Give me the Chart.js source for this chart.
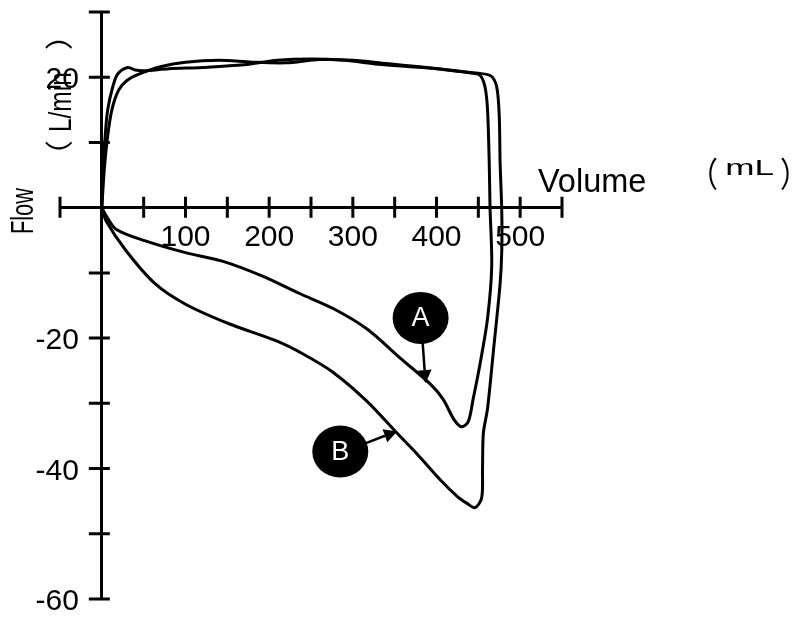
<!DOCTYPE html>
<html>
<head>
<meta charset="utf-8">
<script src="https://cdn.jsdelivr.net/npm/chart.js@4.4.1/dist/chart.umd.min.js"></script>
<style>
body{margin:0;background:#fff;}
#wrap{width:794px;height:617px;position:relative;}
</style>
</head>
<body>
<div id="wrap"><canvas id="loopChart"></canvas></div>
<script>
// loop A (inner), volume in mL, flow in L/min
let loopAVolume = [0,1.5,4,7,13,19,31,40,50,80,120,170,210,250,290,330,370,410,440,452,458,461,463,464,466,461,452,444,438,430,421,408,393,357,317,277,237,192,144,100,52,17,4,0];
let loopAFlow   = [0,6,11,15,18.5,20.5,21.5,21.1,21.0,21.3,21.5,21.9,22.6,22.8,22.6,22.0,21.6,21.2,20.7,20.3,18.5,15,7,0,-9,-17,-24,-29.2,-32.8,-33.6,-32.5,-29.4,-27.1,-23.1,-18.6,-15.5,-13.2,-10.5,-8.2,-6.9,-5.1,-3.3,-1,0];
// loop B (outer)
let loopBVolume = [0,3,7,12,20,30,45,70,100,140,180,220,260,300,340,380,420,450,465,472,475,476,478,478,476,468,461,456,455,454,446,436,425,405,377,353,317,277,240,208,152,100,64,29,5,0];
let loopBFlow   = [0,6,11,15,18,19.5,20.5,21.6,22.3,22.6,22.3,22.2,22.7,22.6,22.1,21.6,21.0,20.6,20.2,18.5,14,7,-0.5,-6.6,-11.7,-22,-30.8,-34.6,-40,-44.5,-46,-45.3,-44.3,-41.8,-37.8,-34.6,-29.7,-25.3,-22.4,-20.4,-17.8,-14.8,-11.7,-6.6,-2,0];

// axis labels shown
let xTickLabels = [100,200,300,400,500];
let yTickLabels = [20,-20,-40,-60];

// callouts
let markNames  = ["A","B"];
let markVolume = [381,285];
let markFlow   = [-16.9,-37.4];
let tipVolume  = [387,353];
let tipFlow    = [-26.9,-34.3];

let toPoints = function(xs,ys){
	let pts = [];
	for(let i=0;i<xs.length;i++){
		pts.push({x:xs[i],y:ys[i]});
	}
	return pts;
}

// draw text so that its ink fills the given box
let fitInk = function(ctx,text,font,left,top,w,h){
	ctx.save();
	ctx.font = font;
	ctx.textAlign = "left";
	ctx.textBaseline = "alphabetic";
	let m = ctx.measureText(text);
	let iw = m.actualBoundingBoxLeft+m.actualBoundingBoxRight;
	let ih = m.actualBoundingBoxAscent+m.actualBoundingBoxDescent;
	ctx.translate(left,top);
	ctx.scale(w/iw,h/ih);
	ctx.fillText(text,m.actualBoundingBoxLeft,m.actualBoundingBoxAscent);
	ctx.restore();
}

// ticks crossing both sides of the axis + tick labels
let axisMarks = {
	id:"axisMarks",
	afterDraw:function(chart){
		let ctx = chart.ctx;
		let xs = chart.scales.x, ys = chart.scales.y;
		let x0 = xs.getPixelForValue(0), y0 = ys.getPixelForValue(0);
		ctx.save();
		ctx.strokeStyle = "#000";
		ctx.lineWidth = 3;
		ctx.beginPath();
		for(let t of xs.ticks){
			if(t.value===0) continue;
			let px = xs.getPixelForValue(t.value);
			ctx.moveTo(px,y0-11);
			ctx.lineTo(px,y0+10);
		}
		for(let t of ys.ticks){
			if(t.value===0) continue;
			let py = ys.getPixelForValue(t.value);
			ctx.moveTo(x0-13,py);
			ctx.lineTo(x0+8,py);
		}
		ctx.stroke();

		ctx.fillStyle = "#000";
		ctx.font = "30px 'Liberation Sans'";
		ctx.textBaseline = "alphabetic";
		ctx.textAlign = "center";
		for(let v of xTickLabels){
			ctx.fillText(String(v),xs.getPixelForValue(v),y0+38);
		}
		ctx.textAlign = "right";
		for(let v of yTickLabels){
			ctx.fillText(String(v),x0-23,ys.getPixelForValue(v)+11);
		}
		ctx.restore();
	}
};

// axis titles
let axisTitles = {
	id:"axisTitles",
	afterDraw:function(chart){
		let ctx = chart.ctx;
		let sans = "'Liberation Sans'";
		let cjk = "'Noto Sans CJK SC'";
		ctx.save();
		ctx.fillStyle = "#000";

		fitInk(ctx,"Volume","31px "+sans,538,168,107,24);
		fitInk(ctx,"（","32px "+cjk,709,157,8,33);
		fitInk(ctx,"mL","21px "+sans,727,160,46,15);
		fitInk(ctx,"）","32px "+cjk,781,157,8,33);

		// vertical titles, reading bottom to top
		ctx.save();
		ctx.translate(0,617);
		ctx.rotate(-Math.PI/2);
		fitInk(ctx,"Flow","22px "+sans,384,10,45,23);
		fitInk(ctx,"（","28px "+cjk,467,45,9,27);
		fitInk(ctx,"L/min","23px "+sans,486,47,58,24);
		fitInk(ctx,"）","28px "+cjk,568,45,9,27);
		ctx.restore();

		ctx.restore();
	}
};

// black circle callouts with arrows
let callouts = {
	id:"callouts",
	afterDatasetsDraw:function(chart){
		let ctx = chart.ctx;
		let xs = chart.scales.x, ys = chart.scales.y;
		ctx.save();
		for(let i=0;i<markNames.length;i++){
			let cx = xs.getPixelForValue(markVolume[i]);
			let cy = ys.getPixelForValue(markFlow[i]);
			let tx = xs.getPixelForValue(tipVolume[i]);
			let ty = ys.getPixelForValue(tipFlow[i]);
			let rx = 28, ry = 26;
			let dx = tx-cx, dy = ty-cy;
			let len = Math.sqrt(dx*dx+dy*dy);
			let ux = dx/len, uy = dy/len;
			let sx = cx+ux*rx*0.95, sy = cy+uy*ry*0.95;
			let hx = tx-ux*13, hy = ty-uy*13;

			ctx.strokeStyle = "#000";
			ctx.fillStyle = "#000";
			ctx.lineWidth = 2.5;
			ctx.beginPath();
			ctx.moveTo(sx,sy);
			ctx.lineTo(hx,hy);
			ctx.stroke();
			ctx.beginPath();
			ctx.moveTo(tx,ty);
			ctx.lineTo(hx-uy*7,hy+ux*7);
			ctx.lineTo(hx+uy*7,hy-ux*7);
			ctx.closePath();
			ctx.fill();

			ctx.beginPath();
			ctx.ellipse(cx,cy,rx,ry,0,0,Math.PI*2);
			ctx.fill();

			ctx.fillStyle = "#fff";
			ctx.font = "27px 'Liberation Sans'";
			ctx.textAlign = "center";
			ctx.textBaseline = "middle";
			ctx.fillText(markNames[i],cx,cy+1);
		}
		ctx.restore();
	}
};

let noPadding = function(scale){
	scale.paddingTop = 0;
	scale.paddingBottom = 0;
	scale.paddingLeft = 0;
	scale.paddingRight = 0;
}

let renderLoopChart = function(id){
	let ctx = document.getElementById(id).getContext("2d");
	let lineStyle = {
		showLine:true,
		fill:false,
		borderColor:"#000",
		borderWidth:3,
		pointRadius:0,
		tension:0.3
	};
	let myChart = new Chart(ctx,{
		type:"scatter",
		data:{
			datasets:[
				Object.assign({label:"A",data:toPoints(loopAVolume,loopAFlow)},lineStyle),
				Object.assign({label:"B",data:toPoints(loopBVolume,loopBFlow)},lineStyle)
			]
		},
		options:{
			responsive:true,
			maintainAspectRatio:false,
			animation:false,
			layout:{padding:{left:60,right:232,top:12,bottom:18}},
			plugins:{legend:{display:false},tooltip:{enabled:false}},
			scales:{
				x:{
					type:"linear",
					position:{y:0},
					min:-50,max:550,
					grid:{drawOnChartArea:false,drawTicks:false},
					border:{display:true,color:"#000",width:3},
					ticks:{stepSize:50,display:false},
					afterFit:noPadding
				},
				y:{
					type:"linear",
					position:{x:0},
					min:-60,max:30,
					grid:{drawOnChartArea:false,drawTicks:false},
					border:{display:true,color:"#000",width:3},
					ticks:{stepSize:10,display:false},
					afterFit:noPadding
				}
			}
		},
		plugins:[axisMarks,callouts,axisTitles]
	});
}

renderLoopChart("loopChart");
</script>
</body>
</html>
